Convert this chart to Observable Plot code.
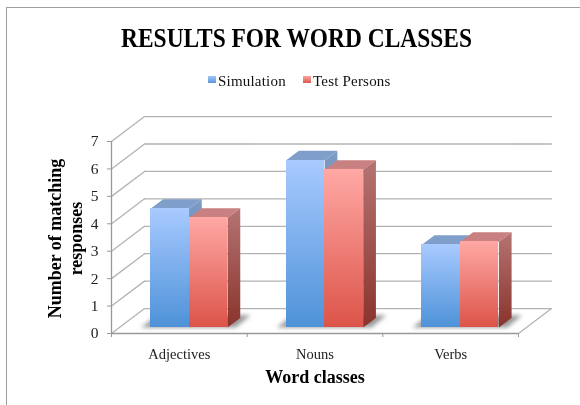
<!DOCTYPE html>
<html>
<head>
<meta charset="utf-8">
<script src="https://cdn.jsdelivr.net/npm/d3@7"></script>
<script src="https://cdn.jsdelivr.net/npm/@observablehq/plot@0.6"></script>
<style>
html,body{margin:0;padding:0;background:#fff;overflow:hidden}
#frame{position:absolute;left:6px;top:7px;width:574px;height:398px;border-left:1.5px solid #a0a0a0;border-top:1.5px solid #a0a0a0;box-sizing:border-box}
#wrap{position:absolute;left:0;top:0;width:580px;height:405px;font-family:"Liberation Serif",serif;color:#111;filter:blur(0.35px)}
#title{position:absolute;left:0;width:580px;top:22px;padding-left:13px;box-sizing:border-box;text-align:center;font-size:26.5px;font-weight:bold;line-height:32px;color:#000;transform:scaleX(.884);transform-origin:296.5px 0}
#legend{position:absolute;top:72px;left:208px;font-size:15px;line-height:18px;white-space:nowrap;letter-spacing:.2px}
#legend span{position:absolute;top:0}
#legend i{position:absolute;top:4px;width:8px;height:7px}
#chart{position:absolute;left:0;top:105px}
svg{display:block;overflow:visible}
</style>
</head>
<body>
<div id="frame"></div>
<div id="wrap">
<div id="title">RESULTS FOR WORD CLASSES</div>
<div id="legend">
<i style="left:0;background:linear-gradient(#a4c6f6,#5a97dc)"></i><span style="left:10px">Simulation</span>
<i style="left:95px;background:linear-gradient(#fba5a0,#d95a50)"></i><span style="left:105px">Test Persons</span>
</div>
<div id="chart"></div>
</div>
<script>
const categories = ["Adjectives", "Nouns", "Verbs"];
const seriesNames = ["Simulation", "Test Persons"];
const simulation = [4.33, 6.1, 3.02];
const testPersons = [4.0, 5.75, 3.13];
const yTicks = [0, 1, 2, 3, 4, 5, 6, 7];
const xEdges = [0, 1, 2, 3];
const xCentres = [0.5, 1.5, 2.5];

// Perspective offsets expressed in scale units
const wallDx = 0.2433, wallDy = 0.909;   // front plane to back wall
const barDx = 0.0936, barDy = 0.345;     // bar depth
const base = 0.218;                      // bar foot above the front floor edge
const barStart = 0.2875, barW = 0.284;   // in one category's width

const bars = [];
categories.forEach((c, i) => {
  bars.push({c, s: 0, x0: i + barStart, x1: i + barStart + barW, v: simulation[i] + base});
  bars.push({c, s: 1, x0: i + barStart + barW, x1: i + barStart + 2 * barW, v: testPersons[i] + base});
});

const poly = (b, name, pts) => pts.map(([x, y]) => ({id: name + b.c + b.s, s: b.s, x, y}));
const side = b => poly(b, "side", [[b.x1, base], [b.x1 + barDx, base + barDy], [b.x1 + barDx, b.v + barDy], [b.x1, b.v]]);
const top_ = b => poly(b, "top", [[b.x0, b.v], [b.x0 + barDx, b.v + barDy], [b.x1 + barDx, b.v + barDy], [b.x1, b.v]]);
const shadowOf = i => ({id: "shadow" + i, pts: [
  [i + barStart - 0.07, base], [i + barStart + 2 * barW + 0.06, base],
  [i + barStart + 2 * barW + 0.17, base + 0.45], [i + barStart + 2 * barW + 0.02, base + 0.45],
  [i + barStart + 0.05, base + 0.45]
]});
const shadows = categories.flatMap((c, i) => shadowOf(i).pts.map(([x, y]) => ({id: "shadow" + i, x, y})));

const sideWall = yTicks.flatMap(v => [{v, x: 0, y: v}, {v, x: wallDx, y: v + wallDy}]);
const backWall = yTicks.flatMap(v => [{v, x: wallDx, y: v + wallDy}, {v, x: 3 + wallDx, y: v + wallDy}]);
const floorRight = [{x: 3, y: 0}, {x: 3 + wallDx, y: wallDy}];

const defs = () => {
  const d = d3.create("svg:defs");
  const grad = (id, a, b) => {
    const g = d.append("linearGradient").attr("id", id).attr("x1", 0).attr("x2", 0).attr("y1", 0).attr("y2", 1);
    g.append("stop").attr("offset", 0).attr("stop-color", a);
    g.append("stop").attr("offset", 1).attr("stop-color", b);
  };
  grad("frontB", "#a8caff", "#4e92d8");
  grad("frontR", "#ffa8a4", "#dc5449");
  grad("sideB", "#7d9cc6", "#3f6fa8");
  grad("sideR", "#b47472", "#8a332c");
  return d.node();
};

const faces = s => {
  const bs = bars.filter(b => b.s === s);
  return [
    Plot.line(bs.flatMap(top_), {x: "x", y: "y", z: "id", fill: s ? "#c88080" : "#7f9ec9", stroke: "none"}),
    Plot.line(bs.flatMap(side), {x: "x", y: "y", z: "id", fill: s ? "url(#sideR)" : "url(#sideB)", stroke: "none"}),
    Plot.rectY(bs, {x1: "x0", x2: "x1", y1: () => base, y2: "v", fill: s ? "url(#frontR)" : "url(#frontB)", inset: 0, shapeRendering: "crispEdges"})
  ];
};

const gray = "#b3b3b3";
const titleFont = {fontSize: 18, fontWeight: "bold", fill: "#000", textAnchor: "middle", lineAnchor: "middle"};
const plot = Plot.plot({
  width: 580,
  height: 300,
  marginLeft: 111, marginRight: 62, marginTop: 36, marginBottom: 72,
  style: {fontFamily: '"Liberation Serif", serif', fontSize: "14.5px", color: "#222", background: "transparent", overflow: "visible"},
  x: {domain: [0, 3]},
  y: {domain: [0, 7]},
  marks: [
    defs,
    Plot.line(sideWall, {x: "x", y: "y", z: "v", stroke: gray, strokeWidth: 1.3}),
    Plot.line(backWall, {x: "x", y: "y", z: "v", stroke: gray, strokeWidth: 1.3}),
    Plot.line(floorRight, {x: "x", y: "y", stroke: gray, strokeWidth: 1.3}),
    Plot.ruleX([0], {y1: 0, y2: 7, stroke: "#999", strokeWidth: 1.3}),
    Plot.ruleY([0], {x1: 0, x2: 3, stroke: "#999", strokeWidth: 1.3}),
    Plot.line(shadows, {x: "x", y: "y", z: "id", fill: "#777", fillOpacity: 0.75, stroke: "none", imageFilter: "blur(2px)"}),
    ...faces(0),
    ...faces(1),
    Plot.axisY({ticks: yTicks, tickSize: 4, tickPadding: 9, stroke: "#999", label: null, fontSize: 15.5, tickFormat: d => d}),
    Plot.axisX({ticks: xEdges, tickSize: 4, tickFormat: () => "", stroke: "#999", label: null}),
    Plot.axisX({ticks: xCentres, tickSize: 0, tickPadding: 15, tickFormat: d => categories[Math.floor(d)], label: null}),
    Plot.text(["Word classes"], {...titleFont, frameAnchor: "bottom", dy: 44, letterSpacing: "0.8px"}),
    Plot.text(["Number of matching"], {...titleFont, frameAnchor: "left", dx: -56, dy: 1, rotate: -90}),
    Plot.text(["responses"], {...titleFont, frameAnchor: "left", dx: -35, dy: 1, rotate: -90, letterSpacing: "0.6px"})
  ]
});
document.getElementById("chart").appendChild(plot);
</script>
</body>
</html>
